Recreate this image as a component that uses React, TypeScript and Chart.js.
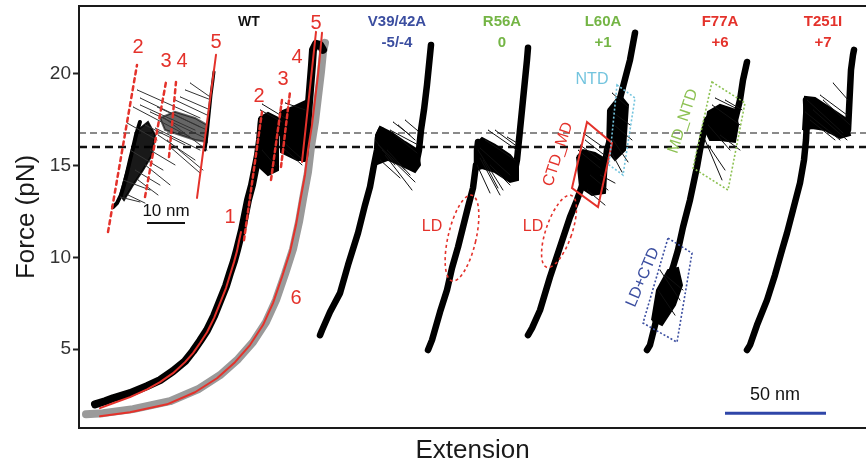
import React, { useEffect, useRef } from "react";
import { Chart, registerables } from "chart.js";
Chart.register(...registerables);

type P = [number, number];
type S = [number, number, number, number];

// ---------- axis / reference values ----------
const forceTicks = [5, 10, 15, 20];
const meanForces = [16.78, 16.02];

// ---------- WT (extension in nm, force in pN) ----------
const wtUnfold: P[] = [
  [8, 1.99], [13, 2.16], [17, 2.32], [25.5, 2.6], [34, 2.98], [40.5, 3.31], [47, 3.8], [53, 4.34],
  [57, 4.89], [60.5, 5.44], [64, 6.03], [67.5, 6.8], [70.5, 7.62], [73.5, 8.44], [75.5, 9.14],
  [77.5, 9.8], [79, 10.4], [80.5, 11.05], [81.5, 11.49], [83, 12.31], [84.5, 13.13], [86.5, 13.94],
  [88, 14.76], [89.5, 15.58], [90.5, 16.4], [91.5, 17.49], [95.5, 16.4], [100.5, 16.94],
  [106.5, 16.67], [112.5, 15.42], [113.5, 16.4], [114.5, 17.76], [115.5, 19.13], [116.5, 20.49],
  [117, 21.31], [118.5, 21.64], [120.5, 21.58], [122, 21.31],
];
const wtRelax: P[] = [
  [3.5, 1.45], [12, 1.51], [27, 1.73], [45.5, 2.16], [59.5, 2.81], [70.5, 3.58], [79.5, 4.45],
  [87, 5.38], [93.5, 6.47], [98.5, 7.67], [103, 9.09], [107, 10.45], [110, 11.93], [112, 13.18],
  [114.5, 14.65], [116, 16.02], [118, 17.38], [119.5, 18.75], [121, 20.11], [122, 21.2], [123, 21.69],
];
const wtFit1: P[] = [
  [10.5, 1.78], [17, 2.05], [25.5, 2.38], [34, 2.81], [40.5, 3.2], [47, 3.69], [53, 4.29], [57, 4.78],
  [60.5, 5.33], [64, 5.92], [67.5, 6.69], [70.5, 7.51], [73.5, 8.33], [75.5, 9.04], [77.5, 9.74],
  [79, 10.34], [80, 10.89], [81, 11.38],
];
const wtFit6: P[] = [
  [10.5, 1.34], [25.5, 1.56], [44, 1.99], [58, 2.65], [69, 3.41], [78, 4.29], [85.5, 5.22], [92, 6.31],
  [97, 7.51], [101.5, 8.93], [105.5, 10.29], [108.5, 11.76], [110.5, 13.02], [113, 14.49],
  [114.5, 15.85], [116.5, 17.22], [118, 18.58], [119.5, 19.95], [120.5, 21.04], [121.5, 22.24],
];
const wtPatchA: P[] = [[90, 17.6], [94.5, 17.87], [99.5, 17.6], [99.5, 14.76], [94.5, 14.49], [89, 15.04]];
const wtPatchB: P[] = [[100.5, 17.93], [107, 18.2], [113.5, 18.53], [113.5, 15.31], [109, 15.31], [101, 15.74]];
const wtStreaks: S[] = [
  [91.5, 18.36, 103, 17.6], [90.5, 18.04, 101.5, 17.38], [101, 16.4, 112, 15.31],
  [102, 15.96, 111.5, 15.04], [103, 18.42, 113, 18.04], [91.5, 15.85, 98.5, 14.98],
];
const wtDashedFits: S[] = [[82.5, 10.94, 91.5, 17.93], [96, 14.22, 101.5, 18.58], [101, 14.93, 105.5, 19.02]];
const wtSolidFits: S[] = [[111.5, 15.2, 118.5, 22.29]];

// ---------- WT inset (zoomed hopping) ----------
const insetRise: P[] = [
  [17, 12.74], [19, 12.96], [21, 13.4], [22.5, 13.94], [24, 14.6], [25.5, 15.31], [27, 15.96],
  [28.5, 16.67], [30.5, 17.38],
];
const insetTop: P[] = [[63, 15.85], [64, 16.67], [65, 17.76], [66, 18.85], [67, 19.67], [67.5, 20.11]];
const insetPatch1: P[] = [
  [20.5, 13.4], [24, 14.76], [27, 15.85], [29.5, 16.94], [34.5, 17.38], [38, 16.67], [36.5, 15.58],
  [32, 14.76], [27, 13.94], [22.5, 13.13],
];
const insetPatch2: P[] = [
  [40.5, 17.6], [48, 17.93], [58, 17.6], [64, 17.22], [64, 16.29], [58, 16.4], [50.5, 16.67], [43, 16.94],
];
const insetStreaks: S[] = [
  [29, 19.13, 60.5, 17.6], [30.5, 18.69, 60.5, 17.11], [27, 18.2, 55.5, 16.56], [39, 18.2, 64, 16.94],
  [42, 17.65, 64, 15.85], [44, 16.4, 62, 14.76], [45.5, 16.02, 60.5, 14.6], [24, 17.33, 39, 16.4],
  [25.5, 15.85, 42, 14.76], [22, 14.22, 35.5, 13.67], [20.5, 13.29, 30.5, 13.02], [55.5, 19.51, 65.5, 18.75],
  [50.5, 18.75, 65.5, 18.04], [35.5, 15.85, 48, 15.04], [28, 14.76, 40.5, 13.94], [33, 17.22, 53, 16.13],
  [30.5, 18.31, 58, 16.94], [35.5, 17.93, 63, 16.51], [38, 17.05, 60.5, 15.85], [39.5, 16.67, 58, 15.31],
  [33, 15.04, 45.5, 13.95], [29.5, 14.22, 39.5, 13.4], [24.5, 13.4, 33, 12.96], [48, 18.58, 64, 17.76],
  [53, 19.13, 66, 18.58],
];
const insetDashedFits: S[] = [[14.5, 11.38, 29, 20.49], [33, 13.29, 43.5, 19.56], [45, 15.47, 48.5, 19.56]];
const insetSolidFits: S[] = [[59, 13.24, 68.5, 21.04]];

// ---------- mutants ----------
const v39Trace: P[] = [
  [120.5, 5.76], [121.5, 6.03], [125.5, 7.02], [130.5, 8.05], [134.5, 9.58], [139.5, 11.33], [143, 12.85],
  [145.5, 13.84], [147.5, 15.04], [149, 15.85], [149.5, 16.51], [151, 16.94], [155.5, 16.4], [160.5, 16.02],
  [165.5, 15.69], [169, 15.31], [170, 15.85], [171, 16.94], [172.5, 18.04], [174, 19.4], [175, 20.49], [176, 21.58],
];
const v39Patch: P[] = [
  [148, 15.04], [148.5, 16.67], [150.5, 17.11], [156.5, 16.78], [163, 16.29], [169.5, 15.85], [170.5, 15.04],
  [168, 14.65], [160.5, 15.04], [154.5, 15.31],
];
const v39Streaks: S[] = [
  [151.5, 15.85, 168, 14.11], [153, 15.58, 166.5, 13.67], [150.5, 15.31, 160.5, 14.33], [155.5, 16.94, 169.5, 16.13],
  [163, 17.49, 169.5, 16.89], [158, 16.67, 169, 15.69], [149.5, 16.13, 163, 14.76], [157, 17.38, 165.5, 16.67],
  [148, 16.4, 158, 15.04], [154, 15.85, 165.5, 14.49], [159.5, 17.22, 168, 16.4],
];

const r56Trace: P[] = [
  [174.5, 4.95], [176.5, 5.49], [180.5, 7.02], [184, 8.22], [186.5, 9.42], [189.5, 10.56], [192, 11.65],
  [194.5, 12.74], [197, 13.78], [198.5, 15.04], [199, 15.85], [199.5, 16.29], [205.5, 15.85], [213, 15.31],
  [218, 14.76], [219, 15.31], [220, 16.4], [221, 17.49], [222, 18.58], [223, 19.67], [224, 20.76], [224.5, 21.42],
];
const r56Patch: P[] = [
  [198.5, 14.76], [199, 16.24], [201.5, 16.51], [208, 16.13], [215.5, 15.58], [219.5, 15.04], [219.5, 14.22],
  [215.5, 14.11], [208, 14.65], [201.5, 14.87],
];
const r56Streaks: S[] = [
  [199.5, 15.85, 212, 13.67], [200.5, 15.42, 210.5, 13.4], [199, 15.04, 205.5, 13.51], [204.5, 16.94, 219, 15.85],
  [203, 16.4, 218, 15.31], [214, 16.56, 219, 16.24], [205.5, 15.04, 215.5, 13.94], [200.5, 15.96, 215.5, 14.49],
  [208, 16.94, 218, 16.13], [202, 15.31, 209.5, 13.78],
];

const l60Trace: P[] = [
  [224.5, 5.76], [226.5, 6.14], [230.5, 7.12], [235.5, 8.93], [240.5, 10.56], [245.5, 12.2], [249, 13.13],
  [252, 14.05], [254.5, 15.04], [258, 15.31], [263, 15.04], [264, 15.85], [266.5, 16.78], [269, 18.04],
  [272, 19.29], [275.5, 20.76], [278, 22.24],
];
const l60PatchA: P[] = [[249, 15.47], [252, 15.85], [258, 15.69], [264, 15.31], [263, 13.51], [256.5, 13.4], [250.5, 13.84]];
const l60PatchB: P[] = [[264.5, 18.04], [270.5, 18.85], [274.5, 18.31], [273, 15.85], [268, 15.31], [264, 15.85]];
const l60Streaks: S[] = [
  [252, 16.78, 264, 15.85], [253, 16.4, 264.5, 15.42], [250.5, 16.13, 260.5, 15.31], [254, 13.67, 263, 12.85],
  [266.5, 18.96, 274.5, 18.2], [266.5, 17.93, 275.5, 17.22], [267.5, 17.22, 276.5, 16.4], [267, 16.4, 274.5, 15.2],
  [265.5, 15.85, 271.5, 14.65], [260.5, 14.49, 268, 14.05], [249.5, 15.85, 260.5, 14.87], [255.5, 14.49, 264.5, 13.67],
];

const f77Trace: P[] = [
  [284, 4.95], [285.5, 5.22], [289, 6.74], [293, 8.22], [297, 9.47], [299.5, 10.4], [302, 11.65],
  [305.5, 13.13], [309, 14.93], [310.5, 15.85], [312, 16.67], [314, 17.49], [318, 17.87], [323, 17.6],
  [328, 17.49], [330.5, 18.58], [332, 19.67], [334, 20.65],
];
const f77PatchA: P[] = [[286.5, 6.58], [289, 8.22], [294.5, 9.31], [299.5, 9.42], [301.5, 8.49], [298, 7.4], [291.5, 6.31]];
const f77PatchB: P[] = [
  [313, 16.94], [314.5, 17.93], [320.5, 18.31], [328, 18.04], [329.5, 17.22], [328, 16.29], [320.5, 16.4], [315.5, 16.4],
];
const f77Streaks: S[] = [
  [313, 16.4, 321.5, 14.22], [314.5, 16.13, 323, 14.76], [316.5, 18.31, 330.5, 17.22], [318, 18.69, 328, 18.15],
  [320.5, 16.67, 330.5, 15.85], [290.5, 9.31, 300.5, 7.67], [289.5, 8.22, 298, 6.85], [293, 9.04, 302, 8.22],
  [314.5, 17.22, 325.5, 15.85], [323, 18.58, 331.5, 18.04],
];

const t251Trace: P[] = [
  [334, 4.95], [335.5, 5.22], [339, 6.31], [344, 7.67], [348, 9.04], [351.5, 10.4], [354, 11.33],
  [357, 12.58], [360.5, 14.05], [362.5, 15.31], [363.5, 16.4], [364, 17.49], [363.5, 18.58], [369.5, 18.31],
  [375.5, 17.93], [380.5, 17.38], [384.5, 16.94], [385, 18.04], [385.5, 19.13], [386, 20.22], [387, 21.04], [387.5, 21.31],
];
const t251Patch: P[] = [
  [362, 16.94], [363, 18.75], [368, 18.69], [375.5, 18.15], [383, 17.6], [385.5, 16.67], [380.5, 16.51],
  [373, 16.94], [366.5, 17.05],
];
const t251Streaks: S[] = [
  [364, 18.58, 382, 16.78], [367, 18.04, 384, 16.4], [370.5, 18.85, 384, 17.76], [377, 19.51, 384.5, 18.58],
  [365.5, 17.49, 378, 16.4], [363, 17.93, 380.5, 16.4], [372, 18.58, 385.5, 17.22],
];

// ---------- annotations (data coordinates) ----------
const RED = "#e4322b";
const GREEN = "#74b545";
const BLUE = "#3b4ea0";
const CYAN = "#73c4de";
const FONT = '"Liberation Sans", Arial, Helvetica, sans-serif';

const boxes = [
  { pts: [[254, 17.38], [266.5, 16.24], [259.5, 12.74], [246.5, 13.78]], color: RED, dash: [] as number[], w: 2 },
  { pts: [[269, 19.4], [278, 18.69], [272, 14.49], [265, 15.04]], color: CYAN, dash: [2, 2], w: 1.6 },
  { pts: [[316.5, 19.56], [333, 18.42], [324.5, 13.67], [307, 14.87]], color: "#8cc152", dash: [2, 2], w: 1.6 },
  { pts: [[294.5, 11.05], [306.5, 10.23], [299, 5.38], [282, 6.42]], color: BLUE, dash: [2, 2], w: 1.6 },
];
const ellipses = [
  { x: 191.5, y: 11.05, rx: 14, ry: 44, rot: 13 },
  { x: 240, y: 11.42, rx: 13, ry: 38, rot: 19 },
];
const texts = [
  { t: "WT", x: 85, y: 22.84, c: "#111", s: 14, b: true, r: 0 },
  { t: "V39/42A", x: 159, y: 22.84, c: BLUE, s: 15, b: true, r: 0 },
  { t: "-5/-4", x: 159, y: 21.69, c: BLUE, s: 15, b: true, r: 0 },
  { t: "R56A", x: 211.5, y: 22.84, c: GREEN, s: 15, b: true, r: 0 },
  { t: "0", x: 211.5, y: 21.69, c: GREEN, s: 15, b: true, r: 0 },
  { t: "L60A", x: 262, y: 22.84, c: GREEN, s: 15, b: true, r: 0 },
  { t: "+1", x: 262, y: 21.69, c: GREEN, s: 15, b: true, r: 0 },
  { t: "F77A", x: 320.5, y: 22.84, c: RED, s: 15, b: true, r: 0 },
  { t: "+6", x: 320.5, y: 21.69, c: RED, s: 15, b: true, r: 0 },
  { t: "T251I", x: 372, y: 22.84, c: RED, s: 15, b: true, r: 0 },
  { t: "+7", x: 372, y: 21.69, c: RED, s: 15, b: true, r: 0 },
  { t: "1", x: 75.5, y: 12.15, c: RED, s: 20, b: false, r: 0 },
  { t: "2", x: 90, y: 18.75, c: RED, s: 20, b: false, r: 0 },
  { t: "3", x: 102, y: 19.67, c: RED, s: 20, b: false, r: 0 },
  { t: "4", x: 109, y: 20.87, c: RED, s: 20, b: false, r: 0 },
  { t: "5", x: 118.5, y: 22.75, c: RED, s: 20, b: false, r: 0 },
  { t: "6", x: 108.5, y: 7.78, c: RED, s: 20, b: false, r: 0 },
  { t: "2", x: 29.5, y: 21.42, c: RED, s: 20, b: false, r: 0 },
  { t: "3", x: 43.5, y: 20.65, c: RED, s: 20, b: false, r: 0 },
  { t: "4", x: 51.5, y: 20.65, c: RED, s: 20, b: false, r: 0 },
  { t: "5", x: 68.5, y: 21.69, c: RED, s: 20, b: false, r: 0 },
  { t: "LD", x: 176.5, y: 11.65, c: RED, s: 16, b: false, r: 0 },
  { t: "LD", x: 227, y: 11.65, c: RED, s: 16, b: false, r: 0 },
  { t: "NTD", x: 256.5, y: 19.67, c: CYAN, s: 16, b: false, r: 0 },
  { t: "CTD_MD", x: 239.5, y: 15.62, c: RED, s: 16, b: false, r: -72 },
  { t: "MD_NTD", x: 302, y: 17.42, c: "#8cc152", s: 16, b: false, r: -72 },
  { t: "LD+CTD", x: 282, y: 8.91, c: BLUE, s: 16, b: false, r: -67 },
  { t: "10 nm", x: 43.5, y: 12.51, c: "#111", s: 17, b: false, r: 0 },
  { t: "50 nm", x: 348, y: 2.52, c: "#111", s: 18, b: false, r: 0 },
];
const scaleBars = [
  { x1: 34, x2: 53, y: 11.87, c: "#111", w: 2 },
  { x1: 323, x2: 373.5, y: 1.51, c: "#2f46a8", w: 3 },
];

// ---------- helpers ----------
const xy = (a: P[]) => a.map(([x, y]) => ({ x, y }));
const closed = (a: P[]) => xy([...a, a[0]]);
const segs = (a: S[]) =>
  a.flatMap(([x1, y1, x2, y2]) => [{ x: x1, y: y1 }, { x: x2, y: y2 }, { x: x2, y: null as any }]);

const line = (data: any[], color: string, width: number, order: number, dash: number[] = []) => ({
  data,
  borderColor: color,
  borderWidth: width,
  borderDash: dash,
  pointRadius: 0,
  fill: false,
  spanGaps: false,
  tension: 0,
  order,
  borderJoinStyle: "round" as const,
  borderCapStyle: "round" as const,
});
const patch = (a: P[], order: number, color = "#000") => ({
  data: closed(a),
  borderColor: color,
  backgroundColor: color,
  borderWidth: 2,
  pointRadius: 0,
  fill: "shape",
  tension: 0,
  order,
});

function buildDatasets() {
  const ds: any[] = [];
  ds.push(line(segs(wtDashedFits), RED, 2.5, 0, [4, 3]));
  ds.push(line(segs(insetDashedFits), RED, 2.5, 0, [4, 4]));
  ds.push(line(segs(wtSolidFits), RED, 2, 0));
  ds.push(line(segs(insetSolidFits), RED, 2, 0));
  ds.push(line(xy(wtFit1), RED, 2, 1));
  ds.push(line(xy(wtFit6), RED, 2, 2));
  [wtStreaks, v39Streaks, r56Streaks, l60Streaks, f77Streaks, t251Streaks].forEach((s) =>
    ds.push(line(segs(s), "#111", 1, 3))
  );
  ds.push(line(segs(insetStreaks), "#333", 1, 3));
  [wtPatchA, wtPatchB, v39Patch, r56Patch, l60PatchA, l60PatchB, f77PatchA, f77PatchB, t251Patch].forEach((p) =>
    ds.push(patch(p, 4))
  );
  ds.push(patch(insetPatch1, 4, "rgba(0,0,0,0.9)"));
  ds.push(patch(insetPatch2, 4, "rgba(0,0,0,0.6)"));
  ds.push(line(xy(wtUnfold), "#000", 8, 5));
  ds.push(line(xy(insetRise), "#000", 4, 5));
  ds.push(line(xy(insetTop), "#000", 3, 5));
  [v39Trace, r56Trace, l60Trace, f77Trace, t251Trace].forEach((t) => ds.push(line(xy(t), "#000", 6.5, 5)));
  ds.push(line(xy(wtRelax), "#9a9a9a", 8, 6));
  return ds;
}

const annotPlugin = {
  id: "annot",
  beforeDatasetsDraw(chart: any) {
    const { ctx, chartArea: a, scales } = chart;
    const y = scales.y;
    ctx.save();
    const styles = [
      { c: "#8a8a8a", w: 2, d: [7, 4] },
      { c: "#111", w: 2.5, d: [8, 5] },
    ];
    meanForces.forEach((f, i) => {
      const py = y.getPixelForValue(f);
      ctx.strokeStyle = styles[i].c;
      ctx.lineWidth = styles[i].w;
      ctx.setLineDash(styles[i].d);
      ctx.beginPath();
      ctx.moveTo(a.left, py);
      ctx.lineTo(a.right, py);
      ctx.stroke();
    });
    ctx.restore();
  },
  afterDatasetsDraw(chart: any) {
    const { ctx, scales } = chart;
    const X = (v: number) => scales.x.getPixelForValue(v);
    const Y = (v: number) => scales.y.getPixelForValue(v);
    ctx.save();
    boxes.forEach((b) => {
      ctx.strokeStyle = b.color;
      ctx.lineWidth = b.w;
      ctx.setLineDash(b.dash);
      ctx.beginPath();
      b.pts.forEach(([px, py], i) => (i ? ctx.lineTo(X(px), Y(py)) : ctx.moveTo(X(px), Y(py))));
      ctx.closePath();
      ctx.stroke();
    });
    ellipses.forEach((e) => {
      ctx.strokeStyle = RED;
      ctx.lineWidth = 1.6;
      ctx.setLineDash([3, 3]);
      ctx.beginPath();
      ctx.ellipse(X(e.x), Y(e.y), e.rx, e.ry, (e.rot * Math.PI) / 180, 0, Math.PI * 2);
      ctx.stroke();
    });
    ctx.setLineDash([]);
    scaleBars.forEach((s) => {
      ctx.strokeStyle = s.c;
      ctx.lineWidth = s.w;
      ctx.beginPath();
      ctx.moveTo(X(s.x1), Y(s.y));
      ctx.lineTo(X(s.x2), Y(s.y));
      ctx.stroke();
    });
    ctx.textAlign = "center";
    ctx.textBaseline = "middle";
    texts.forEach((t) => {
      ctx.save();
      ctx.fillStyle = t.c;
      ctx.font = `${t.b ? "bold " : ""}${t.s}px ${FONT}`;
      ctx.translate(X(t.x), Y(t.y));
      if (t.r) ctx.rotate((t.r * Math.PI) / 180);
      ctx.fillText(t.t, 0, 0);
      ctx.restore();
    });
    ctx.restore();
  },
  afterDraw(chart: any) {
    const { ctx, chartArea: a } = chart;
    ctx.save();
    ctx.strokeStyle = "#1a1a1a";
    ctx.lineWidth = 2;
    ctx.setLineDash([]);
    ctx.beginPath();
    ctx.moveTo(a.right, a.top);
    ctx.lineTo(a.left, a.top);
    ctx.lineTo(a.left, a.bottom);
    ctx.lineTo(a.right, a.bottom);
    ctx.stroke();
    ctx.fillStyle = "#1a1a1a";
    ctx.textAlign = "center";
    ctx.textBaseline = "middle";
    ctx.font = `26px ${FONT}`;
    ctx.fillText("Extension", (a.left + a.right) / 2, 451);
    ctx.translate(27, (a.top + a.bottom) / 2);
    ctx.rotate(-Math.PI / 2);
    ctx.fillText("Force (pN)", 0, 0);
    ctx.restore();
  },
};

export default function App() {
  const ref = useRef<HTMLCanvasElement>(null);
  useEffect(() => {
    const chart = new Chart(ref.current as HTMLCanvasElement, {
      type: "line",
      data: { datasets: buildDatasets() },
      options: {
        animation: false,
        responsive: true,
        maintainAspectRatio: false,
        devicePixelRatio: 1,
        layout: { autoPadding: false, padding: { top: 6, bottom: 38, left: 0, right: 0 } },
        plugins: { legend: { display: false }, tooltip: { enabled: false } },
        scales: {
          x: { type: "linear", min: 0, max: 393.5, display: false },
          y: {
            type: "linear",
            min: 0.7,
            max: 23.7,
            afterFit: (s: any) => {
              s.width = 79;
              s.paddingTop = 0;
              s.paddingBottom = 0;
            },
            afterBuildTicks: (s: any) => {
              s.ticks = forceTicks.map((v) => ({ value: v }));
            },
            ticks: { font: { family: FONT, size: 19 }, color: "#333", padding: 2 },
            grid: { drawOnChartArea: false, drawTicks: true, tickLength: 6, tickColor: "#222", tickWidth: 2 },
            border: { display: false },
          },
        },
      } as any,
      plugins: [annotPlugin],
    });
    return () => chart.destroy();
  }, []);
  return (
    <div style={{ position: "fixed", left: 0, top: 0, width: 866, height: 466, background: "#fff" }}>
      <canvas ref={ref} />
    </div>
  );
}
